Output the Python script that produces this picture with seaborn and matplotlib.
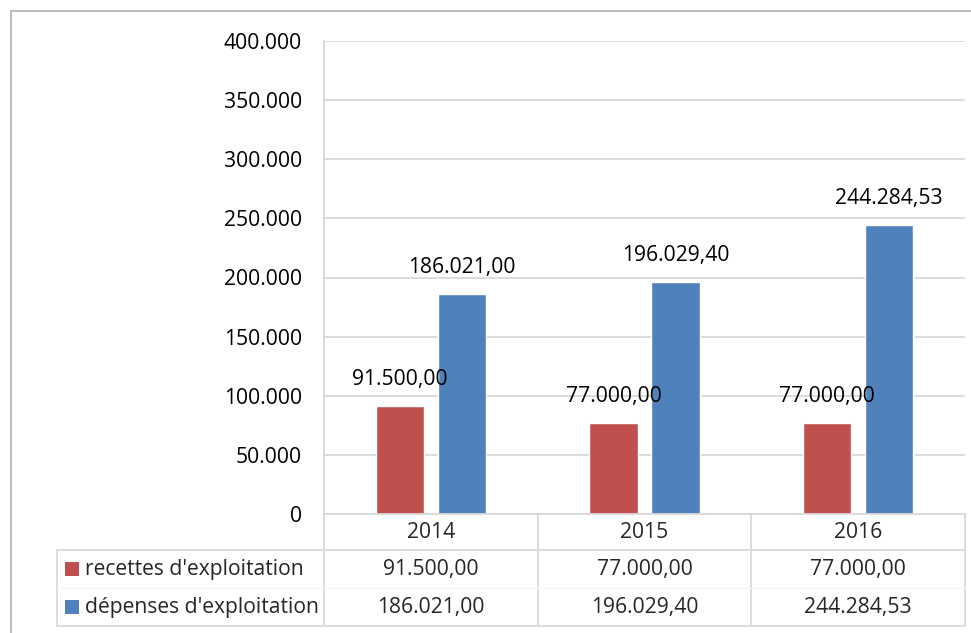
import pandas as pd
import seaborn as sns
import matplotlib.pyplot as plt
import matplotlib.transforms as mtransforms
from matplotlib.lines import Line2D
from matplotlib.patches import Rectangle
from matplotlib.ticker import FuncFormatter, MultipleLocator

years = ["2014", "2015", "2016"]
recettes = [91500.00, 77000.00, 77000.00]
depenses = [186021.00, 196029.40, 244284.53]
series_names = ["recettes d'exploitation", "dépenses d'exploitation"]
colors = ["#C0504D", "#4F81BD"]

df = pd.DataFrame({
    "year": years * 2,
    "serie": [series_names[0]] * 3 + [series_names[1]] * 3,
    "value": recettes + depenses,
})


def fr_num(v, dec=2):
    # 186021.0 -> "186.021,00"
    s = f"{v:,.{dec}f}"
    return s.replace(",", "#").replace(".", ",").replace("#", ".")


W, H = 971, 633
sns.set_style("white")
plt.rcParams["font.family"] = ["Open Sans", "DejaVu Sans"]
FS = 15.2
GRID = "#d9d9d9"

fig = plt.figure(figsize=(W / 100, H / 100), dpi=100)
ax = fig.add_axes([324 / W, 1 - 514 / H, (965 - 324) / W, (514 - 41) / H])

sns.barplot(data=df, x="year", y="value", hue="serie", hue_order=series_names,
            palette=colors, saturation=1, width=0.58, gap=0.22,
            legend=False, ax=ax)

ax.set_xlim(-0.5, 2.5)
ax.set_ylim(0, 400000)
ax.yaxis.set_major_locator(MultipleLocator(50000))
ax.yaxis.set_major_formatter(FuncFormatter(lambda v, p: fr_num(v, 0)))
ax.grid(axis="y", color=GRID, lw=1.3)
ax.set_axisbelow(True)
ax.tick_params(axis="y", length=0, pad=16, labelsize=FS, labelcolor="black")
ax.tick_params(axis="x", length=0)
ax.set_xticklabels([])
ax.set_xlabel("")
ax.set_ylabel("")
for side in ["top", "right"]:
    ax.spines[side].set_visible(False)
for side in ["left", "bottom"]:
    ax.spines[side].set_color(GRID)
    ax.spines[side].set_linewidth(1.3)

# data labels above bars
for cont, vals in zip(ax.containers, [recettes, depenses]):
    for bar, v in zip(cont, vals):
        ax.annotate(fr_num(v), (bar.get_x() + bar.get_width() / 2, bar.get_height()),
                    xytext=(0, 19), textcoords="offset points",
                    ha="center", va="center", fontsize=FS, color="black")

# data table under the chart
tr = mtransforms.blended_transform_factory(ax.transData, fig.transFigure)


def fy(py):
    return 1 - py / H


def fx(px):
    return px / W


lw = 1.3
# column borders
for xb in [0.5, 1.5, 2.5]:
    fig.add_artist(Line2D([xb, xb], [fy(514), fy(626)], transform=tr, color=GRID, lw=lw))
fig.add_artist(Line2D([fx(324), fx(324)], [fy(514), fy(626)], color=GRID, lw=lw))
fig.add_artist(Line2D([fx(57), fx(57)], [fy(550), fy(626)], color=GRID, lw=lw))
fig.add_artist(Line2D([fx(57), fx(965)], [fy(550), fy(550)], color=GRID, lw=lw))
fig.add_artist(Line2D([fx(57), fx(965)], [fy(626), fy(626)], color=GRID, lw=lw))
fig.add_artist(Line2D([fx(57), fx(965)], [fy(588), fy(588)], color="#f4f4f4", lw=1))

for i, y in enumerate(years):
    fig.text(i, fy(532), y, transform=tr, ha="center", va="center", fontsize=FS)

for row_y, name, col, vals in zip([569, 607], series_names, colors, [recettes, depenses]):
    fig.add_artist(Rectangle((fx(65), fy(row_y + 7)), 14 / W, 14 / H, color=col, lw=0))
    fig.text(fx(85), fy(row_y), name, ha="left", va="center", fontsize=FS)
    for i, v in enumerate(vals):
        fig.text(i, fy(row_y), fr_num(v), transform=tr, ha="center", va="center", fontsize=FS)

# outer chart frame
fig.add_artist(Rectangle((fx(11), -0.2), 1.2, fy(11) + 0.2, fill=False,
                         edgecolor="#bfbfbf", lw=1.5))

fig.savefig("out.png", dpi=100)
